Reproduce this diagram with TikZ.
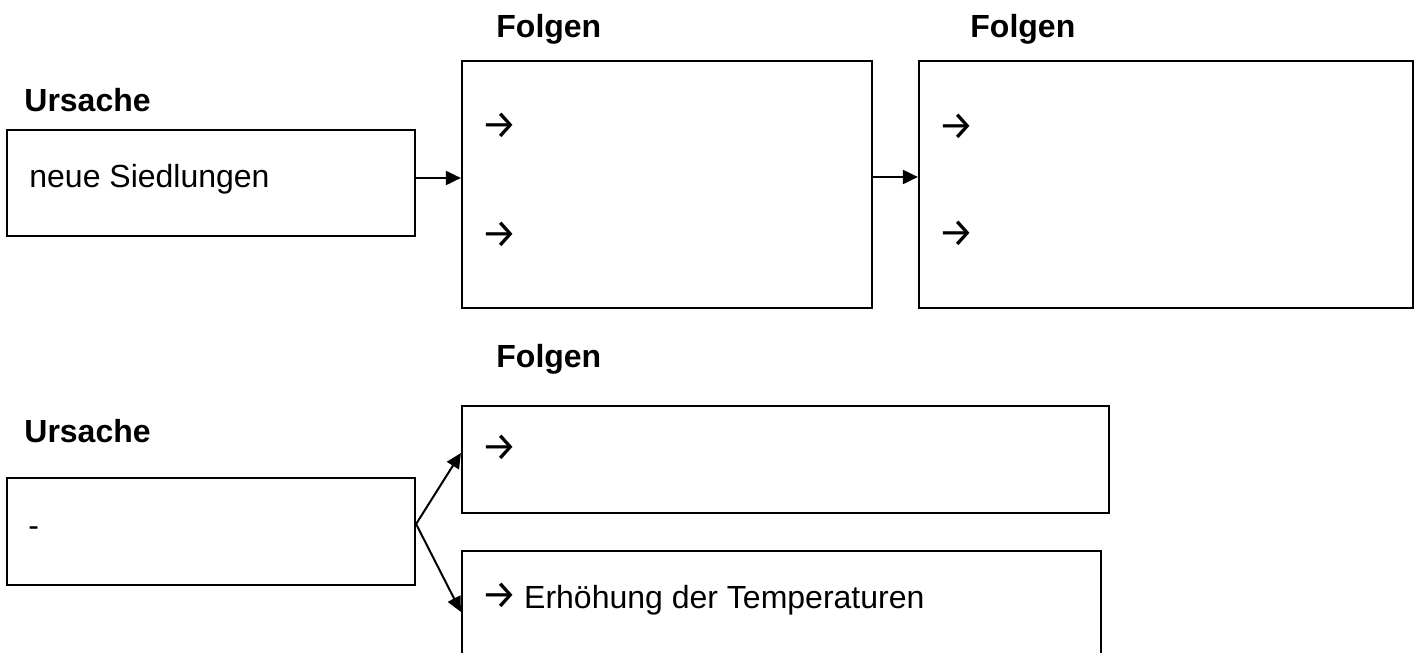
\documentclass[tikz,border=0pt]{standalone}
\usepackage{fontspec}
\setmainfont{Liberation Sans}
\newfontfamily\arrowfont{Fira Sans}
\newcommand\goesto{{\arrowfont\fontsize{20}{21}\selectfont →}}
\usetikzlibrary{fit,arrows.meta}
\begin{document}
\begin{tikzpicture}[x=0.5pt,y=-0.5pt,
  box/.style={draw=black,line width=1.1pt,inner sep=0pt,rectangle},
  txt/.style={inner sep=0pt,anchor=base west,font=\fontsize{16}{19}\selectfont},
  head/.style={txt,font=\fontsize{16}{19}\selectfont\bfseries},
  link/.style={line width=1pt,-{Triangle[length=7.5pt,width=7pt]}}]
\useasboundingbox (0,0) rectangle (1420,653);
\clip (0,0) rectangle (1420,653);

% upper chain: cause -> consequences -> consequences
\node[box,fit={(7,130) (415,236)}] (A) {};
\node[box,fit={(462,61) (872,308)}] (B) {};
\node[box,fit={(919,61) (1413,308)}] (C) {};

\node[head] (h1) at (24,111) {Ursache};
\node[head] (h2) at (496,37) {Folgen};
\node[head] (h3) at (970,37) {Folgen};

\node[txt] (a1) at (29,187) {neue Siedlungen};
\node[txt] (b1) at (481,138) {\goesto};
\node[txt] (b2) at (481,247) {\goesto};
\node[txt] (c1) at (938,139) {\goesto};
\node[txt] (c2) at (938,246) {\goesto};

\draw[link] ([yshift=2.5pt]A.east) -- ([yshift=3.25pt]B.west);
\draw[link] ([yshift=3.75pt]B.east) -- ([yshift=3.75pt]C.west);

% lower part: one cause branching into two consequences
\node[box,fit={(7,478) (415,585)}] (D) {};
\node[box,fit={(462,406) (1109,513)}] (E) {};
\node[box,fit={(462,551) (1101,720)}] (F) {};

\node[head] (h4) at (24,442) {Ursache};
\node[head] (h5) at (496,367) {Folgen};

\node[txt] (d1) at (28,536) {-};
\node[txt] (e1) at (481,460) {\goesto};
\node[txt] (f1) at (481,608) {\goesto\hspace{3.4pt}Erhöhung der Temperaturen};

\coordinate (split) at ([yshift=3.75pt]D.east);
\coordinate (fin) at ([yshift=-31pt]F.north west);
\draw[link] (split) -- ([yshift=3.25pt]E.west);
\draw[link] (split) -- (fin);
\end{tikzpicture}
\end{document}
